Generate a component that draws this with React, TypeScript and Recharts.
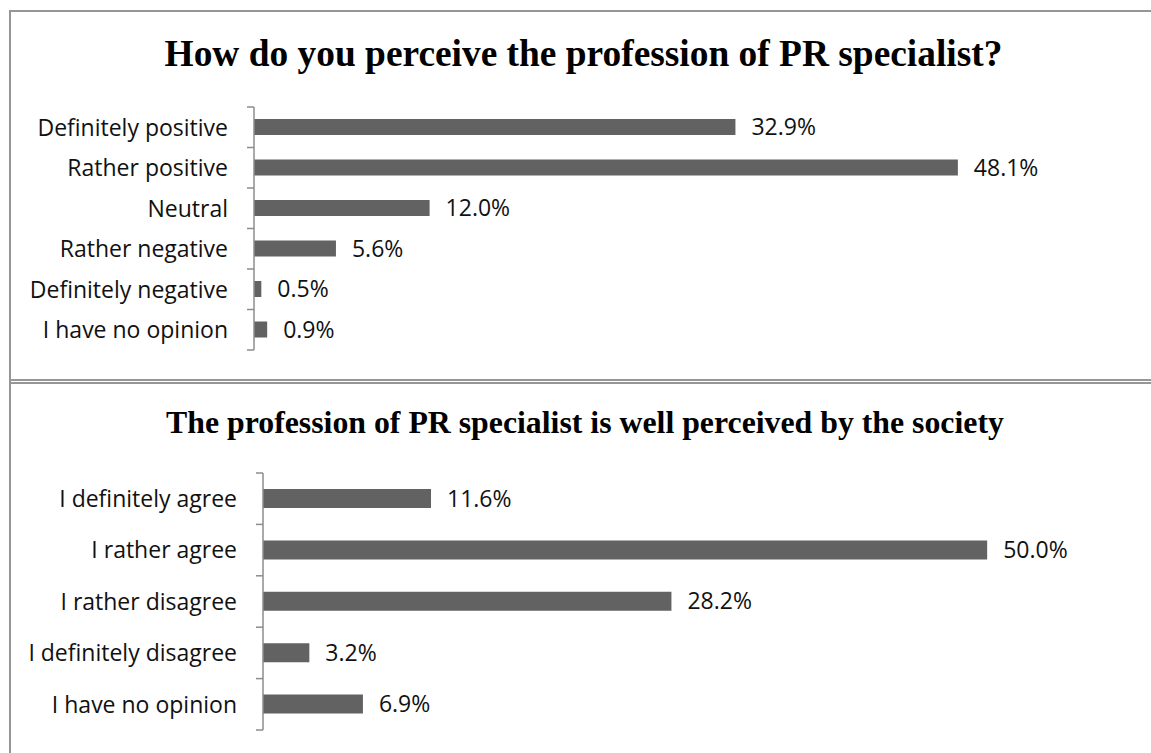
import { Bar, BarChart, LabelList, XAxis, YAxis } from 'recharts';

const topCategories = [
  'Definitely positive',
  'Rather positive',
  'Neutral',
  'Rather negative',
  'Definitely negative',
  'I have no opinion',
];
const topValues = [32.9, 48.1, 12.0, 5.6, 0.5, 0.9];

const bottomCategories = [
  'I definitely agree',
  'I rather agree',
  'I rather disagree',
  'I definitely disagree',
  'I have no opinion',
];
const bottomValues = [11.6, 50.0, 28.2, 3.2, 6.9];

const BAR_COLOR = '#626262';
const AXIS_COLOR = '#8c8c8c';
const BORDER_COLOR = '#969696';
const LABEL_FONT = '"Open Sans", sans-serif';
const LABEL_SIZE = 23;
const TITLE_FONT = '"Liberation Serif", "Times New Roman", serif';

type PanelProps = {
  categories: string[];
  values: number[];
  top: number;
  height: number;
  plotTop: number;
  plotBottom: number;
  axisX: number;
  barSize: number;
};

function makeTick(axisX: number, band: number, count: number) {
  return function Tick(props: any) {
    const { y, payload, index } = props;
    return (
      <g>
        <text
          x={axisX - 26}
          y={y}
          dy="0.36em"
          textAnchor="end"
          fill="#111"
          fontSize={LABEL_SIZE}
          fontFamily={LABEL_FONT}
        >
          {payload.value}
        </text>
        <line x1={axisX - 7} x2={axisX} y1={y - band / 2} y2={y - band / 2} stroke={AXIS_COLOR} strokeWidth={1.5} />
        {index === count - 1 && (
          <line x1={axisX - 7} x2={axisX} y1={y + band / 2} y2={y + band / 2} stroke={AXIS_COLOR} strokeWidth={1.5} />
        )}
      </g>
    );
  };
}

function Panel({ categories, values, top, height, plotTop, plotBottom, axisX, barSize }: PanelProps) {
  const data = categories.map((name, i) => ({ name, value: values[i] }));
  const band = (plotBottom - plotTop) / categories.length;
  return (
    <div style={{ position: 'absolute', left: 0, top, width: 1151, height }}>
      <BarChart
        width={1151}
        height={height}
        data={data}
        layout="vertical"
        barCategoryGap={0}
        margin={{ top: plotTop - top, right: 19, left: 0, bottom: top + height - plotBottom }}
      >
        <XAxis type="number" domain={[0, 60]} hide />
        <YAxis
          type="category"
          dataKey="name"
          width={axisX}
          interval={0}
          tickLine={false}
          axisLine={{ stroke: AXIS_COLOR, strokeWidth: 1.5 }}
          tick={makeTick(axisX, band, categories.length)}
        />
        <Bar dataKey="value" fill={BAR_COLOR} barSize={barSize} isAnimationActive={false}>
          <LabelList
            dataKey="value"
            position="right"
            offset={16}
            formatter={(v: any) => `${Number(v).toFixed(1)}%`}
            style={{ fill: '#111', fontSize: LABEL_SIZE, fontFamily: LABEL_FONT }}
          />
        </Bar>
      </BarChart>
    </div>
  );
}

export default function App() {
  return (
    <div
      style={{
        position: 'absolute',
        left: 0,
        top: 0,
        width: 1151,
        height: 753,
        background: '#fff',
        overflow: 'hidden',
      }}
    >
      {/* panel frames */}
      <div style={{ position: 'absolute', left: 9, top: 10, width: 1142, height: 2, background: BORDER_COLOR }} />
      <div style={{ position: 'absolute', left: 9, top: 10, width: 2, height: 743, background: BORDER_COLOR }} />
      <div style={{ position: 'absolute', left: 9, top: 379, width: 1142, height: 1.5, background: BORDER_COLOR }} />
      <div style={{ position: 'absolute', left: 9, top: 382, width: 1142, height: 1.5, background: BORDER_COLOR }} />

      <svg width={1151} height={753} style={{ position: 'absolute', left: 0, top: 0 }}>
        <text x={583.5} y={65.5} textAnchor="middle" fontFamily={TITLE_FONT} fontWeight="bold" fontSize={37.4} fill="#000">
          How do you perceive the profession of PR specialist?
        </text>
        <text x={585} y={433} textAnchor="middle" fontFamily={TITLE_FONT} fontWeight="bold" fontSize={31.8} fill="#000">
          The profession of PR specialist is well perceived by the society
        </text>
      </svg>

      <Panel
        categories={topCategories}
        values={topValues}
        top={60}
        height={300}
        plotTop={107}
        plotBottom={350}
        axisX={254}
        barSize={16}
      />
      <Panel
        categories={bottomCategories}
        values={bottomValues}
        top={440}
        height={310}
        plotTop={473}
        plotBottom={730}
        axisX={263}
        barSize={19}
      />
    </div>
  );
}
